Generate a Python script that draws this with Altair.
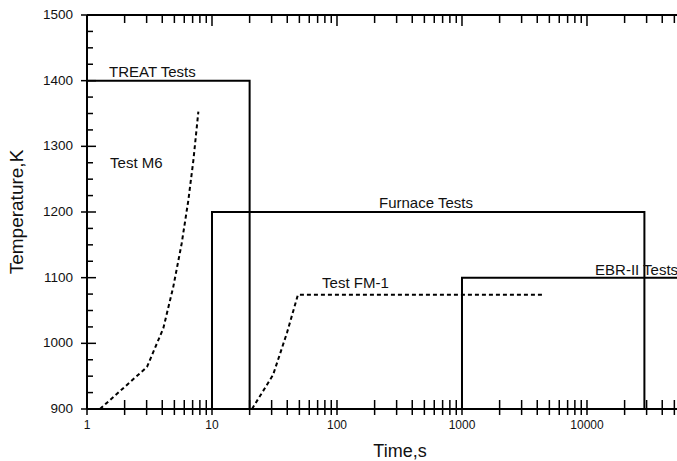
import math
import altair as alt
import pandas as pd

# ---- data ----
treat_t = [1, 20, 20]
treat_k = [1400, 1400, 900]
furnace_t = [10, 10, 28800, 28800]
furnace_k = [900, 1200, 1200, 900]
ebr_t = [1000, 1000, 100000]
ebr_k = [900, 1100, 1100]

m6_t = [1.27, 3.02, 4.08, 4.9, 5.72, 6.47, 7.1, 7.78]
m6_k = [900, 964, 1023, 1086, 1152, 1218, 1279, 1353]
fm1_t = [20.9, 30.8, 39.8, 48.7, 4450]
fm1_k = [900, 952, 1016, 1074, 1074]

left_labels = ["TREAT Tests", "Test M6", "Test FM-1"]
left_labels_t = [1.5, 1.53, 76]
left_labels_k = [1406, 1267, 1084]
center_labels = ["Furnace Tests"]
center_labels_t = [515]
center_labels_k = [1206]
edge_labels = ["EBR-II Tests"]
edge_labels_t = [11600]
edge_labels_k = [1104]

x_major = [1, 10, 100, 1000, 10000]
x_tick_labels = ["1", "10", "100", "1000", "10000"]
x_minor = [2, 3, 4, 5, 6, 7, 8, 9,
           20, 30, 40, 50, 60, 70, 80, 90,
           200, 300, 400, 500, 600, 700, 800, 900,
           2000, 3000, 4000, 5000, 6000, 7000, 8000, 9000,
           20000, 30000, 40000, 50000]
y_major = [900, 1000, 1100, 1200, 1300, 1400, 1500]
y_tick_labels = ["900", "1000", "1100", "1200", "1300", "1400", "1500"]
y_minor = [925, 950, 975, 1025, 1050, 1075, 1125, 1150, 1175,
           1225, 1250, 1275, 1325, 1350, 1375, 1425, 1450, 1475]

x_title = "Time,s"
y_title = "Temperature,K"

X_DOMAIN = [1, 52500]
Y_DOMAIN = [900, 1500]

W, H = 590, 394

# pixel offsets turned into data units of each scale
K_PER_PX = (Y_DOMAIN[1] - Y_DOMAIN[0]) / H
DEC_PER_PX = math.log10(X_DOMAIN[1] / X_DOMAIN[0]) / W

def k_below(px):      # k value px pixels below the bottom edge (negative = above)
    return Y_DOMAIN[0] - px * K_PER_PX

def k_under_top(px):  # k value px pixels below the top edge
    return Y_DOMAIN[1] - px * K_PER_PX

def t_right(px):      # t value px pixels right of the left edge (negative = left)
    return X_DOMAIN[0] * 10 ** (px * DEC_PER_PX)

# ---- tables ----
def series_df(name, ts, ks):
    return pd.DataFrame({"series": name, "t": ts, "k": ks, "i": range(len(ts))})

steps = pd.concat([
    series_df("TREAT", treat_t, treat_k),
    series_df("Furnace", furnace_t, furnace_k),
    series_df("EBR-II", ebr_t, ebr_k),
])
dashed = pd.concat([
    series_df("M6", m6_t, m6_k),
    series_df("FM-1", fm1_t, fm1_k),
])
left_df = pd.DataFrame({"label": left_labels, "t": left_labels_t, "k": left_labels_k})
center_df = pd.DataFrame({"label": center_labels, "t": center_labels_t, "k": center_labels_k})
edge_df = pd.DataFrame({"label": edge_labels, "t": edge_labels_t, "k": edge_labels_k})

x_all = x_major + x_minor
# bottom ticks cross the axis line: 6 px outside, 9 px inside
bottom_ticks = pd.DataFrame({"t": x_all, "k": k_below(6), "k2": k_below(-9)})
# top ticks point inside only
top_major_ticks = pd.DataFrame({"t": x_major, "k": Y_DOMAIN[1], "k2": k_under_top(11)})
top_minor_ticks = pd.DataFrame({"t": x_minor, "k": Y_DOMAIN[1], "k2": k_under_top(8)})
# left ticks: majors cross the axis, minors inside
left_major_ticks = pd.DataFrame({"k": y_major, "t": t_right(-6), "t2": t_right(9)})
left_minor_ticks = pd.DataFrame({"k": y_minor, "t": X_DOMAIN[0], "t2": t_right(6)})

frame_h = pd.DataFrame({"t": [X_DOMAIN[0]] * 2, "t2": [X_DOMAIN[1]] * 2, "k": Y_DOMAIN})
frame_v = pd.DataFrame({"t": [X_DOMAIN[0]], "k": [Y_DOMAIN[0]], "k2": [Y_DOMAIN[1]]})

x_label_df = pd.DataFrame({"t": x_major, "label": x_tick_labels, "k": k_below(11)})
y_label_df = pd.DataFrame({"k": y_major, "label": y_tick_labels, "t": t_right(-14)})
x_title_df = pd.DataFrame({"label": [x_title], "t": [t_right(313)], "k": [k_below(48)]})
y_title_df = pd.DataFrame({"label": [y_title], "t": [t_right(-60)],
                           "k": [(Y_DOMAIN[0] + Y_DOMAIN[1]) / 2]})

xs = alt.Scale(type="log", domain=X_DOMAIN, nice=False)
ys = alt.Scale(domain=Y_DOMAIN, nice=False, zero=False)

FONT = "Liberation Sans"
INK = "#111"

def X(field="t:Q"):
    return alt.X(field, scale=xs, axis=None)

def Y(field="k:Q"):
    return alt.Y(field, scale=ys, axis=None)

step_layer = alt.Chart(steps).mark_line(color="black", strokeWidth=2, clip=True).encode(
    x=X(), y=Y(), detail="series:N", order="i:Q",
)
dash_layer = alt.Chart(dashed).mark_line(color="black", strokeWidth=2, strokeDash=[4, 3],
                                         clip=True).encode(
    x=X(), y=Y(), detail="series:N", order="i:Q",
)

# frame and ticks
tick_style = dict(color="black", strokeWidth=1.5)
frame_h_layer = alt.Chart(frame_h).mark_rule(color="black", strokeWidth=2).encode(
    x=X(), x2="t2:Q", y=Y())
frame_v_layer = alt.Chart(frame_v).mark_rule(color="black", strokeWidth=2).encode(
    x=X(), y=Y(), y2="k2:Q")
bottom_layer = alt.Chart(bottom_ticks).mark_rule(**tick_style).encode(
    x=X(), y=Y(), y2="k2:Q")
top_major_layer = alt.Chart(top_major_ticks).mark_rule(**tick_style).encode(
    x=X(), y=Y(), y2="k2:Q")
top_minor_layer = alt.Chart(top_minor_ticks).mark_rule(**tick_style).encode(
    x=X(), y=Y(), y2="k2:Q")
left_major_layer = alt.Chart(left_major_ticks).mark_rule(**tick_style).encode(
    y=Y(), x=X(), x2="t2:Q")
left_minor_layer = alt.Chart(left_minor_ticks).mark_rule(**tick_style).encode(
    y=Y(), x=X(), x2="t2:Q")

# tick labels and axis titles
x_labels = alt.Chart(x_label_df).mark_text(font=FONT, fontSize=12, color=INK,
                                           align="center", baseline="top").encode(
    x=X(), y=Y(), text="label:N")
y_labels = alt.Chart(y_label_df).mark_text(font=FONT, fontSize=13.5, color=INK,
                                           align="right", baseline="middle").encode(
    x=X(), y=Y(), text="label:N")
x_title_layer = alt.Chart(x_title_df).mark_text(font=FONT, fontSize=18, color=INK,
                                                align="center", baseline="alphabetic").encode(
    x=X(), y=Y(), text="label:N")
y_title_layer = alt.Chart(y_title_df).mark_text(font=FONT, fontSize=19, color=INK,
                                                align="center", baseline="bottom",
                                                angle=270).encode(
    x=X(), y=Y(), text="label:N")

# annotations
text_style = dict(font=FONT, fontSize=15, color=INK, baseline="alphabetic")
left_text = alt.Chart(left_df).mark_text(align="left", **text_style).encode(
    x=X(), y=Y(), text="label:N")
center_text = alt.Chart(center_df).mark_text(align="center", **text_style).encode(
    x=X(), y=Y(), text="label:N")
edge_text = alt.Chart(edge_df).mark_text(align="left", clip=True, **text_style).encode(
    x=X(), y=Y(), text="label:N")

chart = alt.layer(
    step_layer, dash_layer,
    frame_h_layer, frame_v_layer,
    bottom_layer, top_major_layer, top_minor_layer, left_major_layer, left_minor_layer,
    x_labels, y_labels, x_title_layer, y_title_layer,
    left_text, center_text, edge_text,
).properties(
    width=W, height=H,
    autosize=alt.AutoSizeParams(type="none"),
    padding={"left": 87, "top": 15, "right": 0, "bottom": 52},
    background="white",
).configure_view(stroke=None)

chart.save("out.html", embed_options={"renderer": "svg", "actions": False})
